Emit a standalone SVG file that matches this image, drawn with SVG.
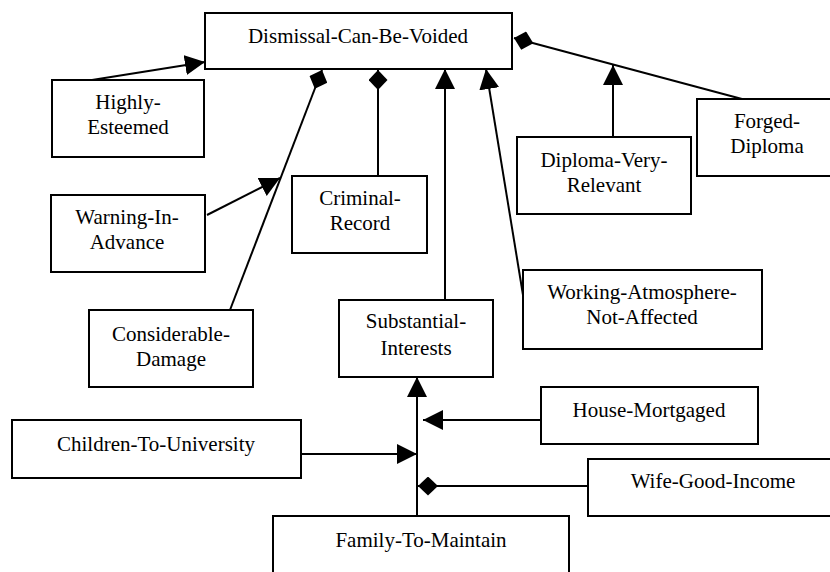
<svg xmlns="http://www.w3.org/2000/svg" width="830" height="572" viewBox="0 0 830 572">
<style>
  .box { fill: #ffffff; stroke: #000000; stroke-width: 2; }
  .edge { fill: none; stroke: #000000; stroke-width: 2; }
  .arr { marker-end: url(#arrow); }
  .dia { marker-end: url(#diamond); }
</style>
<defs>
  <marker id="arrow" markerUnits="userSpaceOnUse" viewBox="0 0 20 20" markerWidth="20" markerHeight="20" refX="20" refY="10" orient="auto">
    <path d="M0,0 L20,10 L0,20 Z" fill="#000000"/>
  </marker>
  <marker id="diamond" markerUnits="userSpaceOnUse" viewBox="0 0 20 19" markerWidth="20" markerHeight="19" refX="20" refY="9.5" orient="auto">
    <path d="M0,9.5 L10,0 L20,9.5 L10,19 Z" fill="#000000"/>
  </marker>
</defs>
<rect width="830" height="572" fill="#ffffff"/>

<g id="connectors">
  <line class="edge arr" x1="92" y1="80" x2="205" y2="62"/>
  <line class="edge dia" x1="230" y1="310" x2="322" y2="70"/>
  <line class="edge arr" x1="207" y1="215" x2="280" y2="178"/>
  <line class="edge dia" x1="378" y1="176" x2="378" y2="70"/>
  <line class="edge arr" x1="445" y1="300" x2="445" y2="69"/>
  <line class="edge arr" x1="523" y1="295" x2="486" y2="69"/>
  <line class="edge arr" x1="613" y1="137" x2="613" y2="65"/>
  <line class="edge dia" x1="742" y1="99" x2="514" y2="38"/>
  <line class="edge arr" x1="301" y1="454" x2="417" y2="454"/>
  <line class="edge arr" x1="541" y1="420" x2="423" y2="420"/>
  <line class="edge dia" x1="588" y1="486" x2="418" y2="486"/>
  <line class="edge arr" x1="417" y1="516" x2="417" y2="377"/>
</g>

<g font-family="Liberation Serif, Times New Roman, serif" font-size="21" fill="#000000" text-anchor="middle">
<g id="dismissal-can-be-voided">
  <rect class="box" x="205" y="13" width="307" height="56"/>
  <text x="358" y="43">Dismissal-Can-Be-Voided</text>
</g>
<g id="highly-esteemed">
  <rect class="box" x="52" y="80" width="152" height="77"/>
  <text x="128" y="109">Highly-</text>
  <text x="128" y="134">Esteemed</text>
</g>
<g id="warning-in-advance">
  <rect class="box" x="51" y="195" width="154" height="77"/>
  <text x="127" y="224">Warning-In-</text>
  <text x="127" y="249">Advance</text>
</g>
<g id="considerable-damage">
  <rect class="box" x="89" y="310" width="164" height="77"/>
  <text x="171" y="341">Considerable-</text>
  <text x="171" y="366">Damage</text>
</g>
<g id="criminal-record">
  <rect class="box" x="292" y="176" width="135" height="77"/>
  <text x="360" y="205">Criminal-</text>
  <text x="360" y="230">Record</text>
</g>
<g id="substantial-interests">
  <rect class="box" x="339" y="300" width="154" height="77"/>
  <text x="416" y="328">Substantial-</text>
  <text x="416" y="355">Interests</text>
</g>
<g id="working-atmosphere-not-affected">
  <rect class="box" x="523" y="270" width="239" height="79"/>
  <text x="642" y="299">Working-Atmosphere-</text>
  <text x="642" y="324">Not-Affected</text>
</g>
<g id="diploma-very-relevant">
  <rect class="box" x="517" y="137" width="174" height="77"/>
  <text x="604" y="167">Diploma-Very-</text>
  <text x="604" y="192">Relevant</text>
</g>
<g id="forged-diploma">
  <rect class="box" x="697" y="99" width="145" height="77"/>
  <text x="767" y="128">Forged-</text>
  <text x="767" y="153">Diploma</text>
</g>
<g id="children-to-university">
  <rect class="box" x="12" y="420" width="289" height="58"/>
  <text x="156" y="451">Children-To-University</text>
</g>
<g id="house-mortgaged">
  <rect class="box" x="541" y="387" width="217" height="57"/>
  <text x="649" y="417">House-Mortgaged</text>
</g>
<g id="wife-good-income">
  <rect class="box" x="588" y="459" width="252" height="57"/>
  <text x="713" y="488">Wife-Good-Income</text>
</g>
<g id="family-to-maintain">
  <rect class="box" x="273" y="516" width="296" height="80"/>
  <text x="421" y="547">Family-To-Maintain</text>
</g>
</g>
</svg>
